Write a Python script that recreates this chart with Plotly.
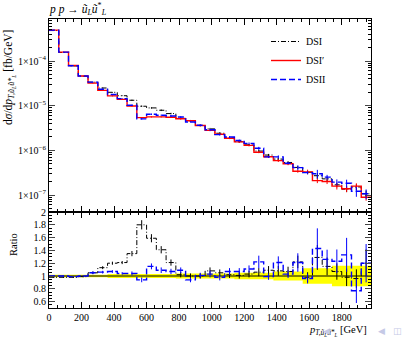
import plotly.graph_objects as go

# ---------------- data ----------------
bin_width = 60.0
n_bins = 33
bin_edges = [i * bin_width for i in range(n_bins + 1)]           # 0 ... 1980 GeV
bin_centers = [i * bin_width + bin_width / 2 for i in range(n_bins)]

# DSI' (reference) differential cross section [fb/GeV]
dsi_prime = [4.9e-4, 1.58e-4, 7.9e-5, 4.6e-5, 3.2e-5, 2.2e-5, 1.66e-5, 1.38e-5,
             9.8e-6, 5.4e-6, 5.6e-6, 5.6e-6, 5.5e-6, 5.1e-6, 4.6e-6, 3.6e-6,
             2.8e-6, 2.3e-6, 1.86e-6, 1.55e-6, 1.29e-6, 9.1e-7, 7.2e-7, 5.9e-7,
             5.0e-7, 3.4e-7, 3.3e-7, 2.1e-7, 2.0e-7, 1.58e-7, 1.38e-7, 1.58e-7, 8.9e-8]

# ratios to DSI'
ratio_dsi = [0.98, 0.98, 0.98, 0.99, 1.05, 1.13, 1.20, 1.21, 1.35, 1.80, 1.59, 1.41,
             1.21, 1.02, 1.00, 1.00, 1.08, 1.05, 1.02, 1.01, 1.03, 1.06, 1.09, 1.08,
             1.07, 1.22, 0.98, 1.29, 1.15, 1.07, 0.98, 0.96, 1.20]
ratio_dsii = [1.00, 1.00, 0.99, 1.00, 1.05, 1.06, 1.07, 1.04, 1.04, 0.94, 1.15, 1.09,
              1.07, 1.09, 0.94, 1.01, 1.03, 0.98, 1.07, 1.07, 1.11, 1.22, 0.99, 1.21,
              1.03, 1.21, 0.96, 1.43, 1.26, 1.23, 1.33, 0.77, 1.20]

# relative statistical uncertainties
err_ref = [0.02, 0.02, 0.02, 0.02, 0.02, 0.02, 0.03, 0.03, 0.03, 0.03, 0.03, 0.03,
           0.03, 0.04, 0.04, 0.04, 0.04, 0.04, 0.04, 0.05, 0.05, 0.05, 0.05, 0.07,
           0.07, 0.07, 0.12, 0.12, 0.12, 0.16, 0.16, 0.16, 0.16]
err_dsi = [0.01, 0.01, 0.01, 0.01, 0.02, 0.02, 0.02, 0.02, 0.03, 0.04, 0.04, 0.04,
           0.04, 0.04, 0.04, 0.04, 0.05, 0.05, 0.05, 0.05, 0.05, 0.06, 0.06, 0.07,
           0.07, 0.08, 0.08, 0.15, 0.12, 0.12, 0.14, 0.15, 0.18]
err_dsii = [0.01, 0.01, 0.01, 0.01, 0.02, 0.02, 0.02, 0.02, 0.03, 0.04, 0.04, 0.04,
            0.04, 0.04, 0.04, 0.04, 0.05, 0.05, 0.05, 0.05, 0.05, 0.08, 0.05, 0.08,
            0.06, 0.12, 0.08, 0.22, 0.12, 0.15, 0.20, 0.25, 0.25]

series_names = ["DSI", "DSI\u2032", "DSII"]
x_tick_vals = [0, 200, 400, 600, 800, 1000, 1200, 1400, 1600, 1800]
ratio_tick_vals = [0.6, 0.8, 1.0, 1.2, 1.4, 1.6, 1.8, 2.0]
ratio_tick_text = ["0.6", "0.8", "1", "1.2", "1.4", "1.6", "1.8", "2"]

# ---------------- derived series ----------------
dsi = [r * v for r, v in zip(ratio_dsi, dsi_prime)]
dsii = [r * v for r, v in zip(ratio_dsii, dsi_prime)]
ones = [1.0] * n_bins
band_lo = [1 - e for e in err_ref]
band_hi = [1 + e for e in err_ref]


def step(vals):
    return list(vals) + [vals[-1]]


FONT = "Liberation Serif"
BLACK, RED, BLUE = "#000000", "#ff0000", "#0000ff"
DSI_DASH = "5px,2px,1px,2px"
DSII_DASH = "6px,3px"

W, H = 406, 340
ML, MR, MT, MB = 49, 35, 19, 32
PW, PH = W - ML - MR, H - MT - MB


def px_x(x):
    return (x - ML) / PW


def px_y(y):
    return 1 - (y - MT) / PH


fig = go.Figure()


def add_hist(vals, errs, color, dash, name, width, xa, ya, legend):
    fig.add_trace(go.Scatter(
        x=bin_edges, y=step(vals), mode="lines", line_shape="hv",
        line=dict(color=color, width=width, dash=dash), name=name,
        showlegend=legend, xaxis=xa, yaxis=ya, hoverinfo="skip"))
    fig.add_trace(go.Scatter(
        x=bin_centers, y=vals, mode="markers", marker=dict(size=1, color=color, opacity=0),
        error_y=dict(type="data", array=[v * e for v, e in zip(vals, errs)],
                     color=color, thickness=1, width=0),
        showlegend=False, xaxis=xa, yaxis=ya, hoverinfo="skip"))


# ---------------- upper panel ----------------
add_hist(dsi, err_dsi, BLACK, DSI_DASH, series_names[0], 1.0, "x2", "y2", True)
add_hist(dsi_prime, err_ref, RED, "solid", series_names[1], 1.4, "x2", "y2", True)
add_hist(dsii, err_dsii, BLUE, DSII_DASH, series_names[2], 1.4, "x2", "y2", True)

# ---------------- ratio panel ----------------
fig.add_trace(go.Scatter(x=bin_edges, y=step(band_lo), mode="lines", line_shape="hv",
                         line=dict(width=0, color="#ffff00"), showlegend=False,
                         xaxis="x", yaxis="y", hoverinfo="skip"))
fig.add_trace(go.Scatter(x=bin_edges, y=step(band_hi), mode="lines", line_shape="hv",
                         line=dict(width=0, color="#ffff00"), fill="tonexty",
                         fillcolor="#ffff00", showlegend=False,
                         xaxis="x", yaxis="y", hoverinfo="skip"))
fig.add_trace(go.Scatter(x=bin_edges, y=step(ones), mode="lines", line_shape="hv",
                         line=dict(color=BLACK, width=1.2), showlegend=False,
                         xaxis="x", yaxis="y", hoverinfo="skip"))
add_hist(ratio_dsi, err_dsi, BLACK, DSI_DASH, series_names[0], 1.0, "x", "y", False)
add_hist(ratio_dsii, err_dsii, BLUE, DSII_DASH, series_names[2], 1.4, "x", "y", False)

# ---------------- axes ----------------
split = 96 / PH
common_x = dict(range=[0, 1980], ticks="inside", ticklen=6, tickcolor=BLACK,
                showline=True, linecolor=BLACK, linewidth=1, mirror="allticks",
                showgrid=False, zeroline=False, tickvals=x_tick_vals,
                minor=dict(ticks="inside", ticklen=3, dtick=50, tick0=0, tickcolor=BLACK,
                           showgrid=False),
                tickfont=dict(family=FONT, size=10, color=BLACK))

minor_log = [k * 10 ** e for e in range(-8, -2) for k in range(2, 10)]

fig.update_layout(
    width=W, height=H,
    margin=dict(l=ML, r=MR, t=MT, b=MB, autoexpand=False),
    paper_bgcolor="white", plot_bgcolor="white",
    font=dict(family=FONT, size=10, color=BLACK),
    xaxis=dict(common_x, anchor="y", domain=[0, 1]),
    xaxis2=dict(common_x, anchor="y2", matches="x", showticklabels=False),
    yaxis=dict(domain=[0, split], range=[0.5, 2.0], ticks="inside", ticklen=6,
               tickvals=ratio_tick_vals, ticktext=ratio_tick_text,
               showline=True, linecolor=BLACK, linewidth=1, mirror="allticks",
               showgrid=False, zeroline=False,
               minor=dict(ticks="inside", ticklen=3, dtick=0.05, tick0=0.5,
                          tickcolor=BLACK, showgrid=False),
               tickfont=dict(family=FONT, size=10, color=BLACK)),
    yaxis2=dict(domain=[split, 1], type="log", range=[-7.38, -3.06], ticks="inside",
                ticklen=6, tickvals=[1e-7, 1e-6, 1e-5, 1e-4],
                exponentformat="power", showexponent="all",
                showline=True, linecolor=BLACK, linewidth=1, mirror="allticks",
                showgrid=False, zeroline=False,
                minor=dict(ticks="inside", ticklen=3, tickmode="array",
                           tickvals=minor_log, tickcolor=BLACK, showgrid=False),
                tickfont=dict(family=FONT, size=10, color=BLACK)),
    legend=dict(x=px_x(266), y=px_y(27), xanchor="left", yanchor="top",
                bgcolor="rgba(0,0,0,0)", font=dict(family=FONT, size=10),
                traceorder="normal", tracegroupgap=0, itemwidth=30),
    showlegend=True,
)

# ---------------- texts ----------------
fig.add_annotation(text="<i>p p</i> \u2192 <i>\u0169</i><sub><i>L</i></sub><i>\u0169</i><sup>*</sup><sub><i>L</i></sub>",
                   x=px_x(47), y=px_y(9), xref="paper", yref="paper",
                   xanchor="left", yanchor="middle", showarrow=False,
                   font=dict(family=FONT, size=11.5))
fig.add_annotation(text="d<i>\u03c3</i>/d<i>p</i><sub><i>T,\u0169<sub>L</sub>\u0169*<sub>L</sub></i></sub> [fb/GeV]",
                   x=px_x(9), y=px_y(78), xref="paper", yref="paper",
                   xanchor="center", yanchor="middle", textangle=-90, showarrow=False,
                   font=dict(family=FONT, size=11.5))
fig.add_annotation(text="Ratio",
                   x=px_x(13), y=px_y(245), xref="paper", yref="paper",
                   xanchor="center", yanchor="middle", textangle=-90, showarrow=False,
                   font=dict(family=FONT, size=10.5))
fig.add_annotation(text="<i>p</i><sub><i>T,\u0169<sub>L</sub>\u0169*<sub>L</sub></i></sub> [GeV]",
                   x=px_x(369), y=px_y(331), xref="paper", yref="paper",
                   xanchor="right", yanchor="middle", showarrow=False,
                   font=dict(family=FONT, size=10.5))
for px, sym in [(326, "\u25c0"), (382, "\u25c0"), (397, "\u25eb")]:
    fig.add_annotation(text=sym, x=px_x(px), y=px_y(331),
                       xref="paper", yref="paper", xanchor="center", yanchor="middle",
                       showarrow=False, font=dict(family="DejaVu Sans", size=9, color="#c5c9e6"))

fig.write_html("out.html", config={"displayModeBar": False},
               post_script="document.body.style.margin='0px';")
